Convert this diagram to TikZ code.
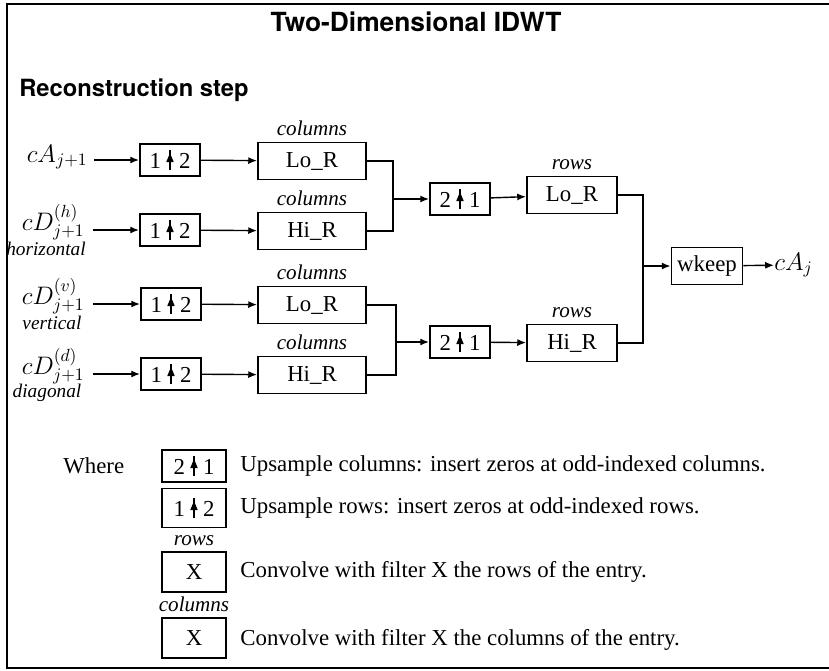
\documentclass[tikz,border=0pt]{standalone}
\usepackage{fontspec}
\setmainfont{Liberation Serif}
\newfontfamily\headfont{TeX Gyre Heros}
\usetikzlibrary{arrows.meta}

% upsampling sign: small upward arrow between the two factors
\newcommand{\uparr}{\hspace{3pt}\tikz[baseline=0pt, x=1cm, y=1cm]{\draw[line width=1.2pt] (0,-0.04) -- (0,0.36);
  \fill (-0.075,0.12) -- (0.075,0.12) -- (0,0.30) -- cycle;}\hspace{3pt}}

\tikzset{
  blk/.style={draw, line width=1.1pt, inner sep=0pt, font=\fontsize{13}{15}\selectfont},
  upbox/.style={blk, minimum width=1.2cm, minimum height=0.64cm},
  filt/.style={blk, minimum width=2.16cm, minimum height=0.74cm},
  rfilt/.style={blk, minimum width=1.8cm, minimum height=0.74cm},
  lbl/.style={font=\itshape\fontsize{12}{14}\selectfont, inner sep=0pt},
  arr/.style={line width=0.8pt, -{Latex[length=5pt,width=4pt]}},
  wire/.style={line width=0.8pt},
  legtxt/.style={anchor=west, inner sep=0pt, font=\fontsize{13}{15}\selectfont}
}

\begin{document}
\begin{tikzpicture}[x=0.02cm, y=-0.02cm]
\useasboundingbox (0,0) rectangle (829,670);
% frame
\draw[line width=1.4pt] (829,4) -- (7,4) -- (7,668) -- (829,668);

\node[font=\headfont\bfseries\fontsize{15}{17}\selectfont] (title) at (416,22) {Two-Dimensional IDWT};
\node[font=\headfont\bfseries\fontsize{13.5}{16}\selectfont, anchor=west, inner sep=0pt] (step) at (19,90) {Reconstruction step};

% inputs
\node[anchor=east, inner sep=0pt, font=\fontsize{14}{16}\selectfont] (inA) at (88,157) {$cA_{j+1}$};
\node[anchor=east, inner sep=0pt, font=\fontsize{14}{16}\selectfont] (inH) at (85,222) {$cD^{(h)}_{j+1}$};
\node[lbl, font=\itshape\fontsize{11}{13}\selectfont] (hz) at (46,249) {horizontal};
\node[anchor=east, inner sep=0pt, font=\fontsize{14}{16}\selectfont] (inV) at (85,296) {$cD^{(v)}_{j+1}$};
\node[lbl, font=\itshape\fontsize{11}{13}\selectfont] (vt) at (52,323) {vertical};
\node[anchor=east, inner sep=0pt, font=\fontsize{14}{16}\selectfont] (inD) at (85,366) {$cD^{(d)}_{j+1}$};
\node[lbl, font=\itshape\fontsize{11}{13}\selectfont] (dg) at (47,393) {diagonal};

% row upsampling
\node[upbox] (upA) at (170,160) {1\uparr2};
\node[upbox] (upH) at (170,230) {1\uparr2};
\node[upbox] (upV) at (171,304) {1\uparr2};
\node[upbox] (upD) at (171,374) {1\uparr2};

% column filters
\node[filt] (loC1) at (312,161) {Lo\_R};
\node[filt] (hiC1) at (312,231) {Hi\_R};
\node[filt] (loC2) at (312,305) {Lo\_R};
\node[filt] (hiC2) at (312,375) {Hi\_R};
\node[lbl, above=3pt] at (loC1.north) {columns};
\node[lbl, above=3pt] at (hiC1.north) {columns};
\node[lbl, above=3pt] at (loC2.north) {columns};
\node[lbl, above=3pt] at (hiC2.north) {columns};

% column upsampling
\node[upbox] (upC1) at (460,199) {2\uparr1};
\node[upbox] (upC2) at (460,342) {2\uparr1};

% row filters
\node[rfilt] (loR) at (572,195) {Lo\_R};
\node[rfilt] (hiR) at (572,343) {Hi\_R};
\node[lbl, above=3pt] at (loR.north) {rows};
\node[lbl, above=3pt] at (hiR.north) {rows};

\node[blk, minimum width=1.42cm, minimum height=0.74cm] (wk) at (707,266) {wkeep};
\node[anchor=west, inner sep=0pt, font=\fontsize{14}{16}\selectfont] (out) at (774,265) {$cA_j$};

\coordinate (m1) at (393,199);
\coordinate (m2) at (396,342);
\coordinate (m3) at (643,266);

\draw[arr] (inA.east |- upA) ++(6,0) -- (upA);
\draw[arr] (inH.east |- upH) ++(8,0) -- (upH);
\draw[arr] (inV.east |- upV) ++(8,0) -- (upV);
\draw[arr] (inD.east |- upD) ++(8,0) -- (upD);
\draw[arr] (upA) -- (loC1);
\draw[arr] (upH) -- (hiC1);
\draw[arr] (upV) -- (loC2);
\draw[arr] (upD) -- (hiC2);

\draw[wire] (loC1.east) -| (m1) |- (hiC1.east);
\draw[wire] (loC2.east) -| (m2) |- (hiC2.east);
\draw[arr] (m1) -- (upC1);
\draw[arr] (m2) -- (upC2);
\draw[arr] (upC1) -- (loR);
\draw[arr] (upC2) -- (hiR);
\draw[wire] (loR.east) -| (m3) |- (hiR.east);
\draw[arr] (m3) -- (wk);
\draw[arr] (wk) -- (out);

% legend
\node[anchor=west, inner sep=0pt, font=\fontsize{13}{15}\selectfont] (where) at (63,466) {Where};
\node[upbox, minimum width=1.28cm] (lgC) at (194,466) {2\uparr1};
\node[upbox, minimum width=1.28cm, minimum height=0.78cm] (lgR) at (194,508) {1\uparr2};
\node[blk, minimum width=1.28cm, minimum height=0.8cm] (lgX1) at (194,572) {X};
\node[blk, minimum width=1.28cm, minimum height=0.8cm] (lgX2) at (194,638) {X};
\node[lbl, above=3pt] at (lgX1.north) {rows};
\node[lbl, above=3pt] at (lgX2.north) {columns};
\node[legtxt] at (240,466) {Upsample columns: insert zeros at odd-indexed columns.};
\node[legtxt] at (240,508) {Upsample rows: insert zeros at odd-indexed rows.};
\node[legtxt] at (240,572) {Convolve with filter X the rows of the entry.};
\node[legtxt] at (240,640) {Convolve with filter X the columns of the entry.};
\end{tikzpicture}
\end{document}
